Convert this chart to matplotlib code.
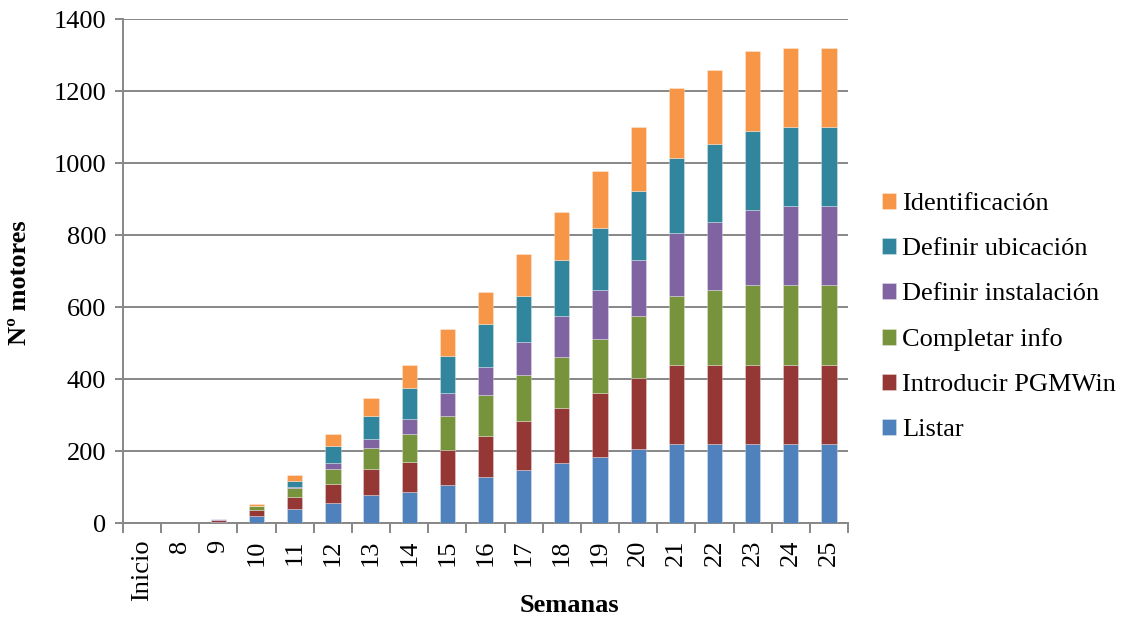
import numpy as np
import matplotlib.pyplot as plt
from matplotlib.ticker import FixedLocator

plt.rcParams["font.family"] = ["Liberation Serif", "DejaVu Serif"]

semanas = ["Inicio", "8", "9", "10", "11", "12", "13", "14", "15", "16",
           "17", "18", "19", "20", "21", "22", "23", "24", "25"]

# motores por tarea y semana (apilados de abajo arriba)
listar = [0, 0, 2, 19, 40, 55, 77, 86, 106, 127, 147, 166, 184, 205, 219, 220, 220, 220, 220]
introducir = [0, 0, 6, 17, 31, 52, 72, 83, 97, 116, 137, 153, 176, 199, 221, 220, 220, 220, 220]
completar = [0, 0, 1, 11, 26, 42, 58, 78, 94, 112, 126, 141, 150, 171, 191, 206, 220, 220, 220]
instalacion = [0, 0, 1, 0, 2, 17, 27, 43, 63, 77, 93, 114, 136, 155, 174, 190, 210, 220, 220]
ubicacion = [0, 0, 0, 1, 19, 49, 64, 85, 104, 121, 128, 156, 174, 193, 209, 217, 220, 220, 220]
identificacion = [0, 0, 0, 5, 14, 31, 48, 63, 74, 90, 116, 134, 158, 178, 194, 205, 220, 220, 220]

series = [
    ("Listar", listar, "#4F81BD"),
    ("Introducir PGMWin", introducir, "#953735"),
    ("Completar info", completar, "#77933C"),
    ("Definir instalación", instalacion, "#8064A2"),
    ("Definir ubicación", ubicacion, "#31859C"),
    ("Identificación", identificacion, "#F79646"),
]

FS = 19
W, H = 1126, 619

fig = plt.figure(figsize=(W / 100, H / 100), dpi=100)
ax = fig.add_axes([123 / W, 1 - 523 / H, 725 / W, 504 / H])

x = np.arange(len(semanas))
bottom = np.zeros(len(semanas))
handles = []
for name, vals, color in series:
    vals = np.array(vals, dtype=float)
    b = ax.bar(x, vals, 0.40, bottom=bottom, color=color, label=name,
               edgecolor=(1, 1, 1, 0.35), linewidth=0.6, zorder=3)
    handles.append(b)
    bottom += vals

grid_c = "#878787"
ax.set_xlim(-0.5, len(semanas) - 0.5)
ax.set_ylim(0, 1400)
ax.set_yticks(range(0, 1401, 200))
ax.yaxis.grid(True, color=grid_c, linewidth=1.4, zorder=0)
ax.tick_params(axis="y", direction="out", length=6, width=1.4, color=grid_c,
               labelsize=FS, pad=6)

ax.set_xticks(x)
ax.set_xticklabels(semanas, rotation=90, fontsize=FS)
ax.tick_params(axis="x", which="major", length=0, pad=12)
ax.xaxis.set_minor_locator(FixedLocator(np.arange(-0.5, len(semanas), 1.0)))
ax.tick_params(axis="x", which="minor", direction="out", length=7, width=1.4,
               color=grid_c)

for side in ["top", "right"]:
    ax.spines[side].set_visible(False)
for side in ["left", "bottom"]:
    ax.spines[side].set_color(grid_c)
    ax.spines[side].set_linewidth(1.4)

# axis titles placed in figure pixels
fig.text(20 / W, 1 - 283 / H, "Nº motores", fontsize=FS, fontweight="bold",
         rotation=90, ha="center", va="center")
fig.text(569 / W, 1 - 606 / H, "Semanas", fontsize=FS, fontweight="bold",
         ha="center", va="center")

fig.legend(handles[::-1], [s[0] for s in series][::-1],
           loc="center left", bbox_to_anchor=(858 / W, 1 - 317 / H),
           frameon=False, fontsize=FS, handlelength=0.55, handleheight=0.55,
           handletextpad=0.22, labelspacing=0.86)

fig.savefig("out.png", dpi=100)
